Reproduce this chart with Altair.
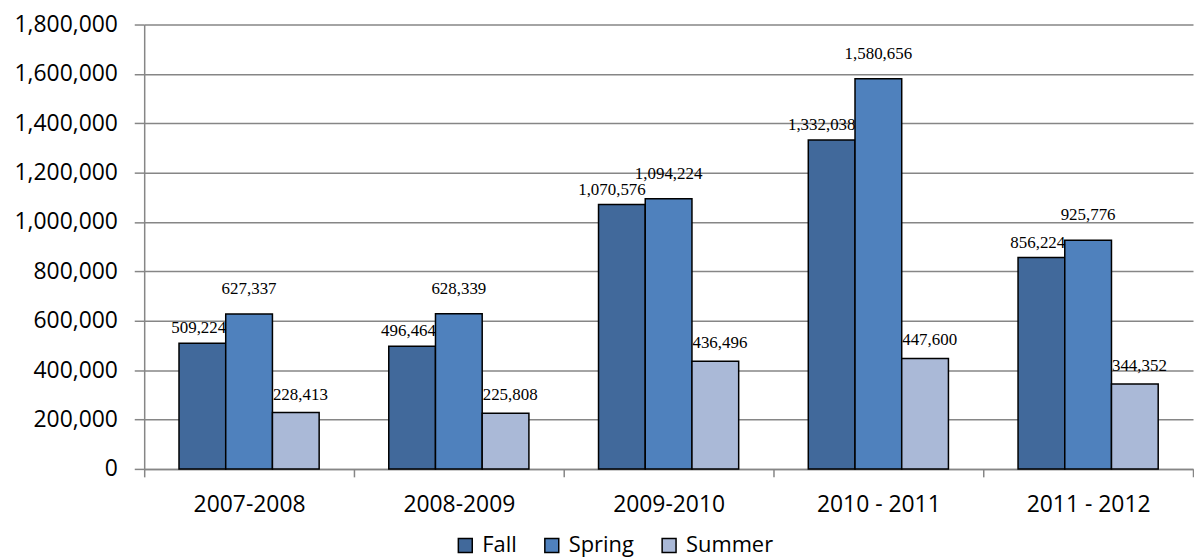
import altair as alt
import pandas as pd

years = ["2007-2008", "2008-2009", "2009-2010", "2010 - 2011", "2011 - 2012"]
seasons = ["Fall", "Spring", "Summer"]
fall = [509224, 496464, 1070576, 1332038, 856224]
spring = [627337, 628339, 1094224, 1580656, 925776]
summer = [228413, 225808, 436496, 447600, 344352]
colors = ["#41699B", "#4F81BD", "#AAB9D7"]
y_ticks = [0, 200000, 400000, 600000, 800000, 1000000, 1200000, 1400000, 1600000, 1800000]

rows = []
for i, yr in enumerate(years):
    for s, vals in zip(seasons, [fall, spring, summer]):
        rows.append({"year": yr, "season": s, "value": vals[i]})
df = pd.DataFrame(rows)

GRID = "#868686"
AXFONT = "Open Sans"

x_enc = alt.X(
    "year:N", sort=years,
    scale=alt.Scale(paddingInner=0, paddingOuter=0),
    axis=alt.Axis(title=None, labelAngle=0, tickBand="extent", labelFont=AXFONT,
                  labelFontSize=23, labelColor="black", tickColor=GRID, tickSize=8,
                  tickWidth=1.5, domainWidth=1.5,
                  domainColor=GRID, labelPadding=17, grid=False),
)
xo_enc = alt.XOffset("season:N", sort=seasons,
                     scale=alt.Scale(paddingInner=0, paddingOuter=0.745))
y_enc = alt.Y(
    "value:Q",
    scale=alt.Scale(domain=[0, 1800000], nice=False),
    axis=alt.Axis(title=None, format=",.0f", values=y_ticks, labelFont=AXFONT,
                  labelFontSize=23, labelColor="black", tickColor=GRID, tickSize=10,
                  tickWidth=1.5, domainWidth=1.5, gridWidth=1.5,
                  domainColor=GRID, gridColor=GRID, gridOpacity=1, labelPadding=17,
                  minExtent=137, maxExtent=137),
)

base = alt.Chart(df)

bars = base.mark_bar(stroke="black", strokeWidth=1.5).encode(
    x=x_enc, xOffset=xo_enc, y=y_enc,
    color=alt.Color("season:N", sort=seasons,
                    scale=alt.Scale(domain=seasons, range=colors),
                    legend=alt.Legend(title=None, orient="none", direction="horizontal",
                                      legendX=312, legendY=513, symbolType="square",
                                      symbolSize=196, symbolStrokeColor="black",
                                      symbolStrokeWidth=1.5, labelFont=AXFONT,
                                      labelFontSize=22, labelColor="black",
                                      columnPadding=24, labelOffset=6)),
)

label_cfg = {"Fall": ("right", 24, -10), "Spring": ("center", 0, -20), "Summer": ("left", -23, -13)}
texts = []
for s in seasons:
    al, dx, dy = label_cfg[s]
    texts.append(
        base.transform_filter(alt.datum.season == s).mark_text(
            align=al, dx=dx, dy=dy, baseline="alphabetic",
            font="Liberation Serif", fontSize=17, color="black"
        ).encode(x=x_enc, xOffset=xo_enc, y=y_enc,
                 text=alt.Text("value:Q", format=",.0f"))
    )

chart = alt.layer(bars, *texts).properties(
    width=1055, height=447,
    padding={"left": 0, "top": 4, "right": 0, "bottom": 0},
).configure_view(stroke=None)

chart.save("out.html", embed_options={"renderer": "svg", "actions": False})
